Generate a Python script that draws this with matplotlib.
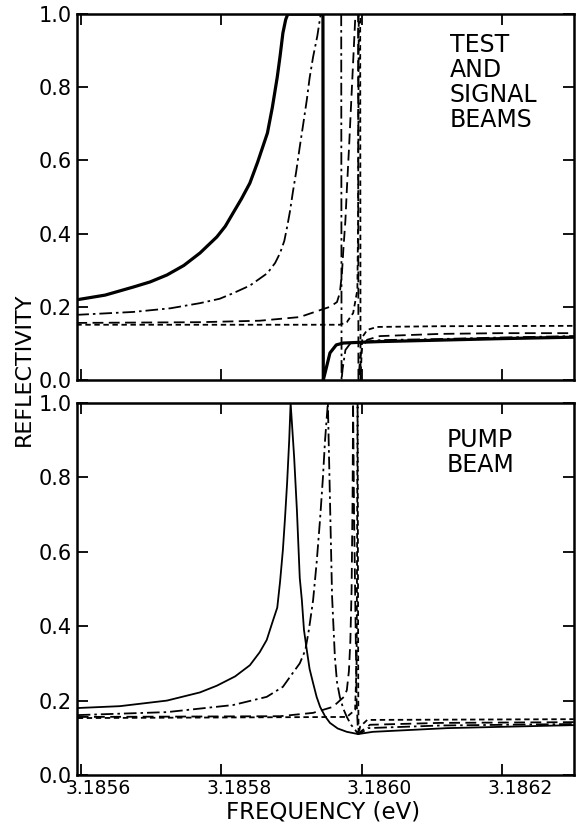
import matplotlib
matplotlib.use('Agg')
import matplotlib.pyplot as plt
import matplotlib.transforms as mtransforms

# --- test and signal beams (upper panel) ---
test_solid_f = [3.185594, 3.185635, 3.185675, 3.185699, 3.185723, 3.185747, 3.185770,
                3.185794, 3.185806, 3.185817, 3.185829, 3.185841, 3.185852, 3.185866,
                3.185873, 3.185880, 3.185884, 3.185888, 3.185892, 3.185895, 3.185945,
                3.1859455, 3.185949, 3.185955, 3.185964, 3.185974, 3.185998, 3.186026,
                3.186112, 3.186197, 3.186302]
test_solid_r = [0.219, 0.232, 0.254, 0.268, 0.287, 0.313, 0.347,
                0.391, 0.42, 0.456, 0.495, 0.538, 0.595, 0.675,
                0.745, 0.828, 0.885, 0.948, 0.985, 1.0, 1.0,
                0.0, 0.027, 0.074, 0.096, 0.101, 0.103, 0.105,
                0.109, 0.113, 0.117]

test_dashdot_f = [3.185594, 3.185675, 3.185728, 3.185770, 3.185798, 3.185817, 3.185841,
                  3.185866, 3.185877, 3.185884, 3.185890, 3.185894, 3.185898, 3.185902,
                  3.185907, 3.185912, 3.185917, 3.185922, 3.185926, 3.185931, 3.185937,
                  3.185941, 3.185942, 3.185971, 3.1859715, 3.185973, 3.185977, 3.185984,
                  3.186026, 3.186112, 3.186197, 3.186302]
test_dashdot_r = [0.178, 0.186, 0.196, 0.21, 0.222, 0.237, 0.258,
                  0.292, 0.32, 0.347, 0.38, 0.418, 0.46, 0.511,
                  0.57, 0.637, 0.70, 0.765, 0.825, 0.883, 0.94,
                  0.99, 1.0, 1.0, 0.0, 0.03, 0.082, 0.10,
                  0.109, 0.112, 0.116, 0.12]

test_dash_f = [3.185594, 3.185770, 3.185855, 3.185912, 3.185941, 3.185955, 3.185965,
               3.185969, 3.185972, 3.185974, 3.185977, 3.185979, 3.185982, 3.185985,
               3.185988, 3.185991, 3.185992, 3.185995, 3.1859955, 3.185998, 3.186001,
               3.186008, 3.186026, 3.186112, 3.186197, 3.186302]
test_dash_r = [0.156, 0.158, 0.162, 0.172, 0.191, 0.20, 0.213,
               0.238, 0.29, 0.355, 0.437, 0.519, 0.63, 0.75,
               0.87, 0.99, 1.0, 1.0, 0.0, 0.06, 0.09,
               0.11, 0.12, 0.126, 0.128, 0.128]

test_short_f = [3.185594, 3.185969, 3.185979, 3.185988, 3.185994, 3.185995, 3.185996,
                3.185998, 3.1859985, 3.186001, 3.186008, 3.186022, 3.186112, 3.186302]
test_short_r = [0.151, 0.151, 0.158, 0.183, 0.246, 0.43, 1.0,
                1.0, 0.0, 0.117, 0.137, 0.145, 0.147, 0.148]

# --- pump beam (lower panel) ---
pump_solid_f = [3.185596, 3.185656, 3.185723, 3.185770, 3.185794, 3.185820, 3.185841,
                3.185855, 3.185865, 3.185873, 3.185880, 3.185884, 3.185888, 3.185891,
                3.185894, 3.185897, 3.185899, 3.185904, 3.185908, 3.185912, 3.185915,
                3.185918, 3.185922, 3.185926, 3.185931, 3.185936, 3.185941, 3.185948,
                3.185955, 3.185966, 3.185979, 3.185995, 3.186016, 3.186122, 3.186302]
pump_solid_r = [0.18, 0.185, 0.20, 0.222, 0.24, 0.265, 0.295,
                0.33, 0.363, 0.41, 0.45, 0.52, 0.605, 0.69,
                0.785, 0.90, 1.0, 0.855, 0.71, 0.53, 0.47,
                0.39, 0.336, 0.285, 0.247, 0.21, 0.183, 0.158,
                0.14, 0.125, 0.116, 0.110, 0.116, 0.126, 0.134]

pump_dashdot_f = [3.185596, 3.185723, 3.185817, 3.185865, 3.185888, 3.185902, 3.185912,
                  3.185920, 3.185925, 3.185931, 3.185936, 3.185941, 3.185945, 3.185948,
                  3.185952, 3.185955, 3.185958, 3.185962, 3.185965, 3.185969, 3.185974,
                  3.185979, 3.185985, 3.185991, 3.185995, 3.186001, 3.186009, 3.186112,
                  3.186302]
pump_dashdot_r = [0.161, 0.169, 0.188, 0.21, 0.237, 0.274, 0.30,
                  0.336, 0.39, 0.47, 0.57, 0.69, 0.80, 0.9,
                  1.0, 0.74, 0.48, 0.317, 0.25, 0.21, 0.178,
                  0.156, 0.135, 0.121, 0.11, 0.115, 0.126, 0.133,
                  0.137]

pump_dash_f = [3.185596, 3.185884, 3.185931, 3.185959, 3.185969, 3.185975, 3.185979,
               3.185982, 3.185984, 3.1859858, 3.1859872, 3.1859879, 3.1859893, 3.1859915,
               3.1859929, 3.1859950, 3.186001, 3.186012, 3.186112, 3.186302]
pump_dash_r = [0.156, 0.158, 0.167, 0.183, 0.20, 0.21, 0.228,
               0.28, 0.36, 0.5, 0.75, 1.0, 0.7, 0.4,
               0.2, 0.11, 0.12, 0.135, 0.14, 0.142]

pump_short_f = [3.185596, 3.185979, 3.1859908, 3.1859929, 3.1859936, 3.1859943, 3.1859953,
                3.1859957, 3.1859979, 3.186008, 3.186302]
pump_short_r = [0.153, 0.156, 0.175, 0.3, 0.6, 1.0, 0.2,
                0.11, 0.13, 0.148, 0.15]

x_ticks = [3.1856, 3.1858, 3.1860, 3.1862]
x_ticklabels = ['3.1856', '3.1858', '3.1860', '3.1862']
y_ticks = [0.0, 0.2, 0.4, 0.6, 0.8, 1.0]
y_ticklabels = ['0.0', '0.2', '0.4', '0.6', '0.8', '1.0']

plt.rcParams['font.family'] = ['DejaVu Sans']

fig = plt.figure(figsize=(5.79, 8.27), dpi=100)
ax1 = fig.add_axes([0.133, 0.5405, 0.858, 0.4425])
ax2 = fig.add_axes([0.133, 0.0629, 0.858, 0.4498])

DASHDOT = (7, 2.2, 1.4, 2.2)
DASH = (6, 3)
SHORT = (3, 2)


def draw_panel(ax, solid, dashdot, dash, short, solid_lw):
    ax.plot(solid[0], solid[1], color='black', lw=solid_lw, solid_joinstyle='round')
    ax.plot(dashdot[0], dashdot[1], color='black', lw=1.3, dashes=DASHDOT)
    ax.plot(dash[0], dash[1], color='black', lw=1.3, dashes=DASH)
    ax.plot(short[0], short[1], color='black', lw=1.3, dashes=SHORT)

    ax.set_xlim(3.185595, 3.186302)
    ax.set_ylim(0.0, 1.0)
    ax.set_xticks(x_ticks)
    ax.set_yticks(y_ticks)
    ax.set_yticklabels(y_ticklabels, fontsize=15)
    ax.tick_params(direction='in', length=8, width=1.3, top=True, right=True, pad=4)
    for s in ax.spines.values():
        s.set_linewidth(1.8)


draw_panel(ax1, (test_solid_f, test_solid_r), (test_dashdot_f, test_dashdot_r),
           (test_dash_f, test_dash_r), (test_short_f, test_short_r), 2.3)
draw_panel(ax2, (pump_solid_f, pump_solid_r), (pump_dashdot_f, pump_dashdot_r),
           (pump_dash_f, pump_dash_r), (pump_short_f, pump_short_r), 1.3)

ax1.set_xticklabels([])
ax2.set_xticklabels(x_ticklabels, fontsize=13.5)
ax2.tick_params(axis='x', pad=3)
# labels sit a little to the right of their ticks in the original
shift = mtransforms.ScaledTranslation(0.18, 0, fig.dpi_scale_trans)
for lab in ax2.get_xticklabels():
    lab.set_transform(lab.get_transform() + shift)

ax1.text(0.75, 0.948, 'TEST\nAND\nSIGNAL\nBEAMS', transform=ax1.transAxes,
         fontsize=17, va='top', ha='left', linespacing=1.05)
ax2.text(0.744, 0.933, 'PUMP\nBEAM', transform=ax2.transAxes,
         fontsize=17, va='top', ha='left', linespacing=1.05)

fig.text(0.042, 0.553, 'REFLECTIVITY', rotation=90, fontsize=16, ha='center', va='center')
fig.text(0.558, 0.004, 'FREQUENCY (eV)', fontsize=16.5, ha='center', va='bottom')

fig.savefig('out.png', dpi=100)
